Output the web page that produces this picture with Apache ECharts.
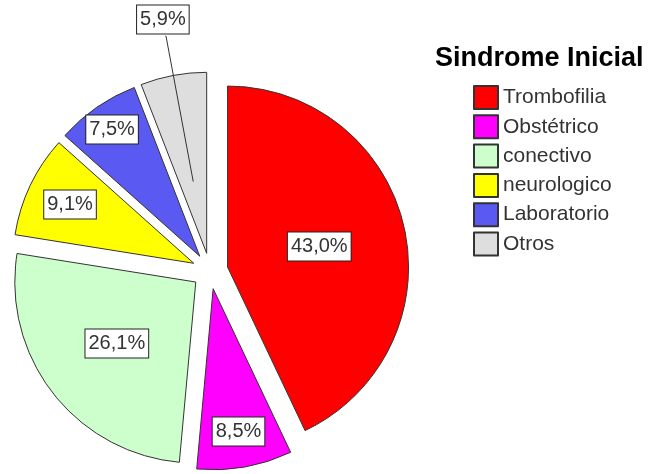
<!DOCTYPE html>
<html>
<head>
<meta charset="utf-8">
<script src="https://cdn.jsdelivr.net/npm/echarts@6/dist/echarts.min.js"></script>
<style>
  html, body { margin: 0; padding: 0; background: #fff; }
  #chart { width: 651px; height: 474px; }
</style>
</head>
<body>
<div id="chart"></div>
<script>
// Distribution of the initial syndrome (percent of patients)
const categories = ['Trombofilia', 'Obstétrico', 'conectivo', 'neurologico', 'Laboratorio', 'Otros'];
const percents = [43.0, 8.5, 26.1, 9.1, 7.5, 5.9];

const palette = ['#ff0000', '#ff00ff', '#ccffcc', '#ffff00', '#5a5af2', '#dedede'];
const FONT = '"Liberation Sans", Arial, sans-serif';
const CENTER = [210, 271];
const RADIUS = 181;
const EXPLODE = 18;

// Distance of each percentage box from the slice tip (px)
const labelRings = [
  { r: 91, names: ['Trombofilia'] },
  { r: 97, names: ['conectivo'] },
  { r: 134, names: ['neurologico'] },
  { r: 142, names: ['Obstétrico'] },
  { r: 151, names: ['Laboratorio'] },
  { r: 235, names: ['Otros'] }
];
// Leader line for the box that sits outside the pie
const leader = { from: 73, length: 148, names: ['Otros'] };

const pctText = p => p.value.toFixed(1).replace('.', ',') + '%';

const boxLabel = {
  show: true,
  position: 'inside',
  formatter: pctText,
  fontFamily: FONT,
  fontSize: 20,
  color: '#333',
  backgroundColor: '#fff',
  borderColor: '#222',
  borderWidth: 1,
  padding: [5, 3, 3, 3]
};

// Build a slice list; only the listed names show a label
function slices(labelled) {
  return categories.map((name, i) => ({
    name: name,
    value: percents[i],
    selected: true,
    label: { show: labelled.indexOf(name) >= 0 },
    labelLine: { show: labelled.indexOf(name) >= 0 }
  }));
}

const hidden = { color: 'transparent', borderWidth: 0 };

const common = {
  type: 'pie',
  center: CENTER,
  startAngle: 90,
  clockwise: true,
  selectedMode: 'multiple',
  selectedOffset: EXPLODE,
  avoidLabelOverlap: false,
  animation: false,
  emphasis: { disabled: true }
};

const series = [
  Object.assign({}, common, {
    name: 'Sindrome Inicial',
    z: 2,
    radius: [0, RADIUS],
    itemStyle: { borderColor: '#333', borderWidth: 1 },
    label: { show: false },
    labelLine: { show: false },
    data: slices([])
  }),
  // leader line reaching into the smallest slice
  Object.assign({}, common, {
    silent: true,
    z: 3,
    radius: [0, leader.from],
    itemStyle: hidden,
    label: { show: true, position: 'outside', formatter: ' ', fontSize: 1, color: 'transparent' },
    labelLine: {
      show: true,
      length: leader.length,
      length2: 0.5,
      smooth: false,
      lineStyle: { color: '#333', width: 1 }
    },
    data: slices(leader.names)
  })
];

// Invisible rings whose inside labels land at the wanted distance
labelRings.forEach(ring => {
  series.push(Object.assign({}, common, {
    silent: true,
    z: 4,
    radius: [ring.r - 10, ring.r + 10],
    itemStyle: hidden,
    label: boxLabel,
    labelLine: { show: false },
    data: slices(ring.names)
  }));
});

const chart = echarts.init(document.getElementById('chart'), null, { renderer: 'canvas' });

chart.setOption({
  backgroundColor: '#fff',
  color: palette,
  title: {
    text: 'Sindrome Inicial',
    left: 435,
    top: 45,
    padding: 0,
    textStyle: { fontFamily: FONT, fontSize: 27, fontWeight: 'bold', color: '#000' }
  },
  legend: {
    orient: 'vertical',
    left: 473,
    top: 85,
    padding: 0,
    data: categories,
    icon: 'rect',
    itemWidth: 24,
    itemHeight: 23,
    itemGap: 4.3,
    selectedMode: false,
    textStyle: { fontFamily: FONT, fontSize: 21, color: '#333', lineHeight: 23 }
  },
  series: series
});
</script>
</body>
</html>
